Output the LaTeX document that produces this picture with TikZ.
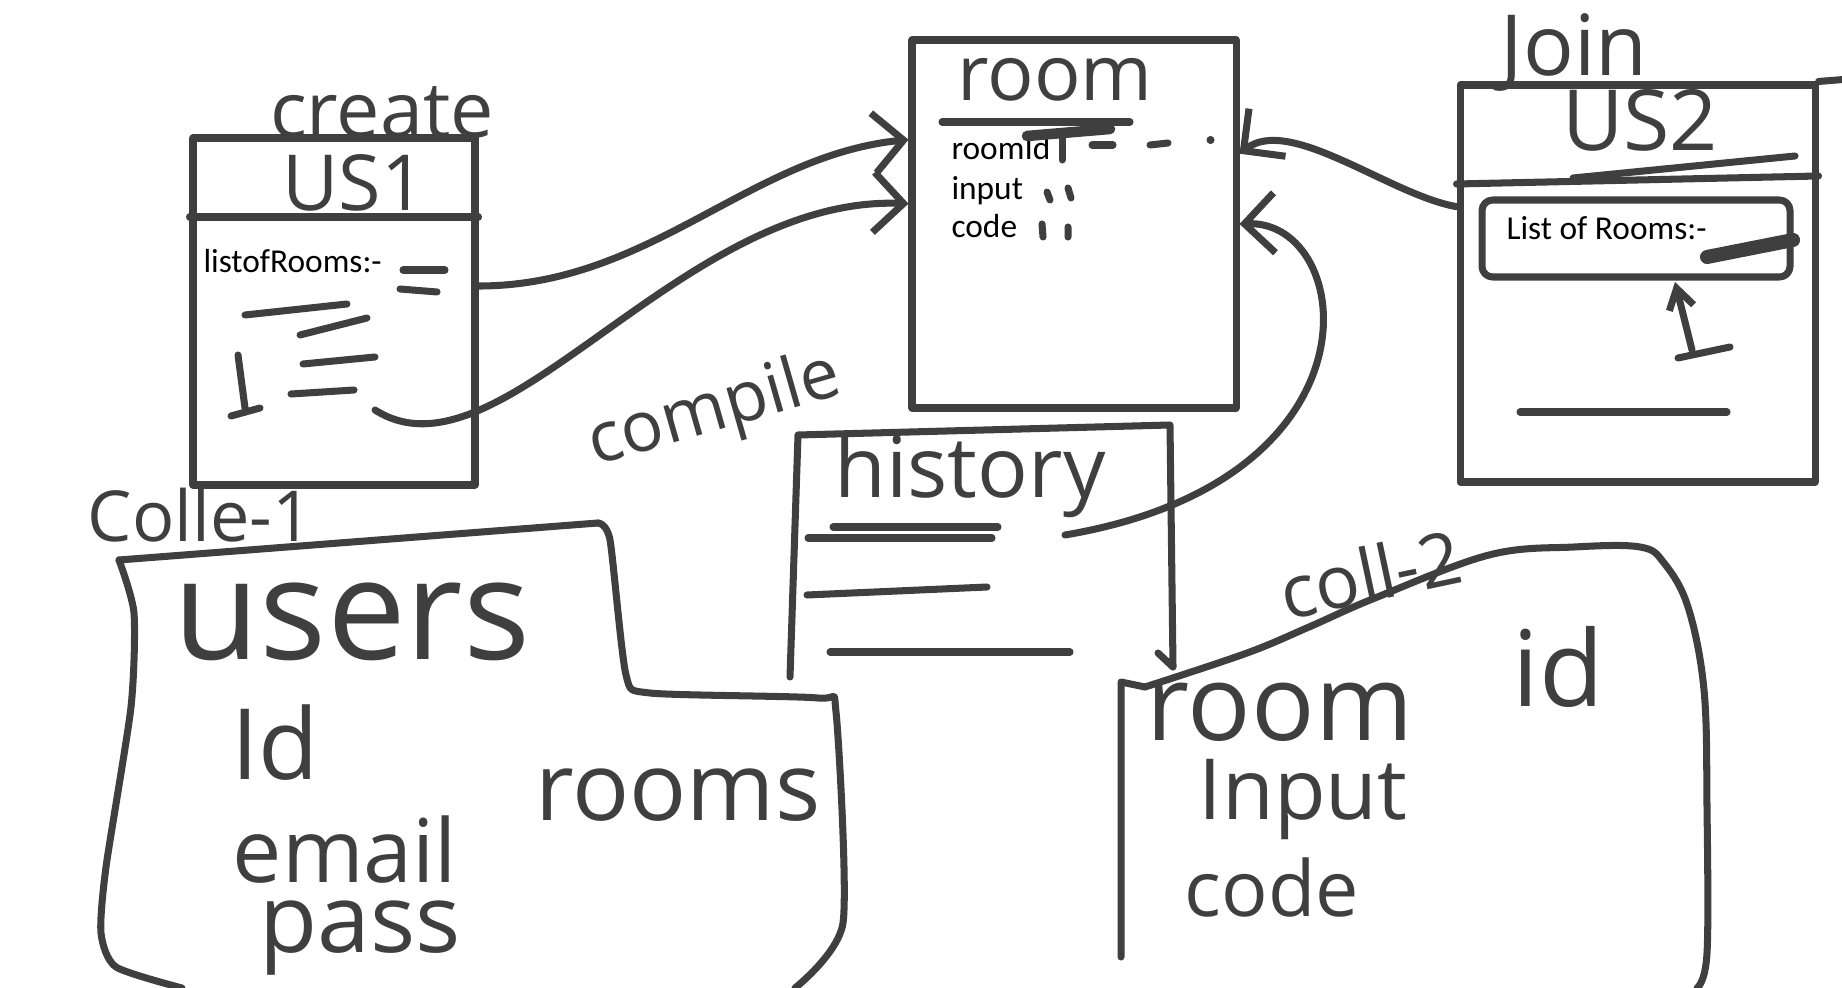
\documentclass[tikz,border=0pt]{standalone}
\usepackage{fontspec}
\setmainfont{Open Sans}
\newfontfamily\typedfont{Carlito}
\usepackage{tikz}
\usetikzlibrary{positioning}
\usetikzlibrary{arrows.meta}

\definecolor{ink}{HTML}{3F3F3F}
\newcommand{\handsz}[1]{\fontsize{#1}{#1}\selectfont}

\tikzset{
  box/.style = {draw, rectangle, inner sep=0pt},
  hand/.style = {inner sep=0pt, text=ink},
  typed/.style = {inner sep=0pt, anchor=base west, text=black,
                  font=\typedfont\fontsize{9.5}{11}\selectfont},
}

\begin{document}
\begin{tikzpicture}[
        > = {Straight Barb[length=3mm, width=6mm]}, % open arrow head
        x = 1cm, y = -1cm, % y runs downward
        line width = 2pt,
        line cap = round, line join = round,
        color = ink
        ]
  \useasboundingbox (0,0) rectangle (18.42,9.88);

  % user 1 (create)
  \node[hand, font=\handsz{22}] (create) at (3.82,1.12) {create};
  \node[box, minimum width=2.82cm, minimum height=3.47cm] (us1) at (3.34,3.115) {};
  \draw (us1.west |- 0,2.17) -- (us1.east |- 0,2.17);
  \node[hand, font=\handsz{22}] (us1t) at (3.54,1.83) {US1};
  \node[typed] (us1list) at (2.00,2.73) {listofRooms:-};
  \draw (4.03,2.70) -- (4.45,2.70);
  \draw (4.00,2.89) -- (4.37,2.92);
  \draw (2.45,3.15) -- (3.47,3.04);
  \draw (3.00,3.35) -- (3.67,3.18);
  \draw (3.03,3.64) -- (3.75,3.57);
  \draw (2.91,3.94) -- (3.54,3.90);
  \draw (2.38,3.55) -- (2.45,4.08) (2.31,4.16) -- (2.60,4.08);
  \coordinate (us1c) at (3.75,4.10);

  % room
  \node[box, minimum width=3.24cm, minimum height=3.68cm] (room) at (10.74,2.24) {};
  \node[hand, font=\handsz{22}] (roomt) at (10.55,0.80) {room};
  \draw (9.42,1.22) -- (11.30,1.22);
  \node[typed] (rid) at (9.48,1.60) {roomId};
  \node[typed] (rinput) at (9.48,2.00) {input};
  \node[typed] (rcode) at (9.48,2.38) {code};
  \draw[line width=3pt] (10.27,1.36) -- (11.10,1.29);
  \draw (10.62,1.33) -- (10.62,1.60);
  \draw (10.92,1.45) -- (11.13,1.45);
  \draw (11.50,1.45) -- (11.68,1.43);
  \draw (12.10,1.40) -- (12.11,1.40);
  \draw (10.47,1.92) -- (10.50,2.00) (10.68,1.88) -- (10.71,1.98);
  \draw (10.42,2.24) -- (10.43,2.37) (10.68,2.27) -- (10.68,2.37);

  % user 2 (join)
  \node[hand, font=\handsz{24}] (join) at (15.74,0.52) {Join};
  \node[box, minimum width=3.55cm, minimum height=3.97cm] (us2) at (16.375,2.835) {};
  \draw (us2.north east) -- ++(0.25,-0.02);
  \node[hand, font=\handsz{24}] (us2t) at (16.40,1.20) {US2};
  \draw (us2.west |- 0,1.84) -- (us2.east |- 0,1.76);
  \draw (15.73,1.78) -- (17.95,1.56);
  \node[draw, rounded corners=3pt, minimum width=3.08cm, minimum height=0.77cm] (rlist) at (16.36,2.385) {};
  \node[typed] (rlistt) at (15.03,2.40) {List of Rooms:-};
  \draw[line width=4pt] (17.07,2.57) -- (17.93,2.40);
  \coordinate (cur2) at (16.92,3.50);
  \coordinate (cur2tip) at (16.75,2.82);
  \draw[-{Straight Barb[length=2mm, width=2.5mm]}] (cur2) -- (cur2tip);
  \draw (16.78,3.58) -- (17.30,3.47);
  \draw (15.20,4.12) -- (17.27,4.12);

  % history
  \draw (7.90,6.77) -- (7.98,4.35) -- (11.70,4.25) -- (11.73,6.67) -- (11.58,6.53);
  \node[hand, font=\handsz{24}] (hist) at (9.70,4.76) {history};
  \draw (8.33,5.27) -- (9.98,5.27);
  \draw (8.08,5.38) -- (9.92,5.38);
  \draw (8.07,5.95) -- (9.87,5.87);
  \draw (8.30,6.52) -- (10.70,6.52);
  \coordinate (histc) at (10.65,5.35);

  % collection 1
  \node[hand, font=\handsz{20}] (colle) at (2.00,5.15) {Colle-1};
  \draw plot[smooth, tension=0.4] coordinates {(1.82,9.88) (1.16,9.67) (1.01,9.33) (1.06,8.67)
    (1.31,7.07) (1.34,6.13) (1.19,5.60)};
  \draw (1.19,5.60) -- (5.98,5.23);
  \draw plot[smooth, tension=0.4] coordinates {(5.98,5.23) (6.10,5.40) (6.26,6.75) (6.50,6.93)
    (8.18,6.98) (8.36,7.12) (8.43,9.23) (7.95,9.88)};
  \node[hand, font=\handsz{40}] (users) at (3.52,6.22) {users};
  \node[hand, font=\handsz{28}] (uid) at (2.75,7.43) {Id};
  \node[hand, font=\handsz{25}] (uemail) at (3.45,8.50) {email};
  \node[hand, font=\handsz{27}] (urooms) at (6.78,7.95) {rooms};
  \node[hand, font=\handsz{27}] (upass) at (3.60,9.38) {pass};

  % collection 2
  \draw (11.21,9.57) -- (11.21,6.82) -- (11.45,6.87);
  \draw plot[smooth, tension=0.6] coordinates {(11.45,6.87) (12.47,6.53) (13.09,6.27) (13.75,5.98)
    (14.89,5.55) (15.74,5.47) (16.40,5.47) (16.64,5.63) (16.88,6.07) (17.04,6.90) (17.07,8.07)
    (17.07,9.53) (16.97,9.88)};
  \node[hand, font=\handsz{21}, rotate=12] (coll) at (13.70,5.74) {coll-2};
  \node[hand, font=\handsz{30}] (croom) at (12.80,7.12) {room};
  \node[hand, font=\handsz{30}] (cid) at (15.58,6.67) {id};
  \node[hand, font=\handsz{24}] (cinput) at (13.03,8.00) {Input};
  \node[hand, font=\handsz{22}] (ccode) at (12.72,8.88) {code};

  % connectors
  \draw[->] (us1.10) .. controls (6.5,2.86) and (7.5,1.55) .. (room.153);
  \draw[->] (us1c) .. controls (5.0,4.9) and (6.8,1.95) .. (room.173);
  \node[hand, font=\handsz{20}, rotate=16] (compile) at (7.15,4.12) {compile};
  \draw[->] (us2.157) .. controls (13.9,1.95) and (12.9,1.15) .. (room.23);
  \draw[->] (histc) .. controls (13.9,4.8) and (13.55,2.2) .. (room.east);

\end{tikzpicture}
\end{document}
